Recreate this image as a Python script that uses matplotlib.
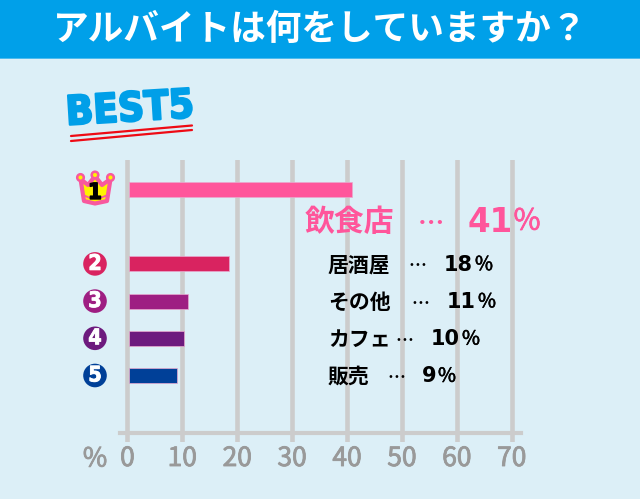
import numpy as np
import matplotlib
matplotlib.use("Agg")
import matplotlib.pyplot as plt
import matplotlib.patheffects as pe
from matplotlib.patches import Circle, Polygon, Rectangle

title = "アルバイトは何をしていますか？"
categories = ["飲食店", "居酒屋", "その他", "カフェ", "販売"]
labels_pct = [41, 18, 11, 10, 9]
bar_values = [40.9, 18.5, 11.0, 10.4, 9.1]
ranks = ["1", "2", "3", "4", "5"]
rows = [0, 2, 3, 4, 5]
colors = ["#FF559B", "#D92360", "#9E1E82", "#6D1A7E", "#004098"]
xticks = [0, 10, 20, 30, 40, 50, 60, 70]

W, H = 640, 499
JP = ["Noto Sans CJK JP", "DejaVu Sans"]
plt.rcParams["font.family"] = JP
BG = "#DCEFF7"
GRID = "#CCCCCC"
GRAY = "#999999"

fig = plt.figure(figsize=(W / 100, H / 100), dpi=100, facecolor=BG)

ax = fig.add_axes([119.5 / W, 1 - 442 / H, (521 - 119.5) / W, (442 - 160) / H])
ax.set_facecolor("none")
ax.set_xlim(-7.9 / 5.49, (521 - 127.4) / 5.49)
y0, dy = 189.5, 37.2
ax.set_ylim((442 - y0) / dy, (160 - y0) / dy)
ax.set_xticks(xticks)
ax.set_yticks([])
ax.grid(axis="x", color=GRID, lw=3.3, zorder=1)
ax.set_axisbelow(True)
for s in ["top", "left", "right"]:
    ax.spines[s].set_visible(False)
ax.spines["bottom"].set_position(("data", (433.5 - y0) / dy))
ax.spines["bottom"].set_color(GRID)
ax.spines["bottom"].set_linewidth(3)
ax.tick_params(axis="x", length=0, pad=0)
for t in ax.get_xticklabels():
    t.set_visible(False)
bar_left = 0.3
for r, v, c in zip(rows, bar_values, colors):
    ax.barh(r, v - bar_left, left=bar_left, height=0.4, color=c,
            edgecolor="#E9A9CF", linewidth=0.5, zorder=3)

ov = fig.add_axes([0, 0, 1, 1], zorder=5)
ov.set_xlim(0, W)
ov.set_ylim(H, 0)
ov.axis("off")
ov.patch.set_alpha(0)

for x in xticks:
    px = ax.transData.transform((x, 0))[0]
    ov.text(px, 458.5, str(x), ha="center", va="center", color=GRAY, fontsize=19,
            path_effects=[pe.withStroke(linewidth=0.6, foreground=GRAY)])
ov.text(95, 459, "%", ha="center", va="center", color=GRAY, fontsize=19,
        path_effects=[pe.withStroke(linewidth=0.6, foreground=GRAY)])

ov.add_patch(Rectangle((0, 0), W, 58, color="#00A0E9", lw=0, zorder=1))
ov.add_patch(Rectangle((0, 58), W, 1.2, color="#4DBBEE", lw=0, zorder=1))
ov.text(320, 29, title, ha="center", va="center", color="white", fontsize=25.7,
        fontweight="bold", zorder=2)

ov.text(130, 110, "BEST5", ha="center", va="center", color="#009FE8", fontsize=29,
        fontweight="bold", family=["DejaVu Sans"], fontstretch="condensed",
        rotation=3.5, rotation_mode="anchor",
        path_effects=[pe.withStroke(linewidth=1.6, foreground="#009FE8")], zorder=2)
ov.plot([71, 192], [136, 125.5], color="#EE0A14", lw=1.6, solid_capstyle="round")
ov.plot([71, 192], [141, 130], color="#EE0A14", lw=1.6, solid_capstyle="round")

crown = [(84, 201), (80.5, 179), (88, 185), (95, 176), (102, 185), (110.5, 179), (107, 201), (95, 203.5)]
ov.add_patch(Polygon(crown, closed=True, fc="#FFF200", ec="#F8589E", lw=3, joinstyle="round", zorder=2))
for cx, cy in [(80.5, 177.5), (95, 175), (110.5, 177.5)]:
    ov.add_patch(Circle((cx, cy), 3.3, fc="#FFF200", ec="#F8589E", lw=1.8, zorder=3))
ov.plot([83, 90, 100, 108], [195, 198, 198, 195], color="#F8589E", lw=1.3, zorder=3)
ov.text(95, 193, ranks[0], ha="center", va="center", color="black", fontsize=16,
        fontweight="bold", family=["DejaVu Sans"], fontstretch="condensed",
        path_effects=[pe.withStroke(linewidth=1.0, foreground="black")], zorder=4)

for rank, r, c in zip(ranks[1:], rows[1:], colors[1:]):
    yy = y0 + dy * r
    ov.add_patch(Circle((95, yy), 11.8, fc=c, ec="none", zorder=2))
    ov.text(95, yy, rank, ha="center", va="center", color="white", fontsize=15.5,
            fontweight="bold", family=["DejaVu Sans"], fontstretch="condensed",
            path_effects=[pe.withStroke(linewidth=0.6, foreground="white")], zorder=3)

ov.text(305, 222, categories[0], ha="left", va="center", color=colors[0], fontsize=21.5,
        fontweight="bold")
ov.text(431, 225, "…", ha="center", va="center", color=colors[0], fontsize=19, fontweight="bold")
ov.text(468, 222, f"{labels_pct[0]}", ha="left", va="center", color=colors[0], fontsize=23.5,
        fontweight="bold", family=["DejaVu Sans"])
ov.text(527, 222, "％", ha="center", va="center", color=colors[0], fontsize=21,
        path_effects=[pe.withStroke(linewidth=0.5, foreground=colors[0])])

dot_x = [417, 420, 404, 396]
num_x = [444, 447, 431, 422]
pct_x = [484, 487, 471, 447]
for i, (name, pct, r) in enumerate(zip(categories[1:], labels_pct[1:], rows[1:])):
    yy = y0 + dy * r + 1
    ov.text(328, yy, name, ha="left", va="center", color="black", fontsize=15, fontweight="bold")
    ov.text(dot_x[i], yy + 2, "…", ha="center", va="center", color="black", fontsize=13, fontweight="bold")
    ov.text(num_x[i], yy, str(pct), ha="left", va="center", color="black", fontsize=15,
            fontweight="bold", family=["DejaVu Sans"])
    ov.text(pct_x[i], yy, "％", ha="center", va="center", color="black", fontsize=14,
            path_effects=[pe.withStroke(linewidth=0.4, foreground="black")])

fig.savefig("out.png", dpi=100, facecolor=BG)
